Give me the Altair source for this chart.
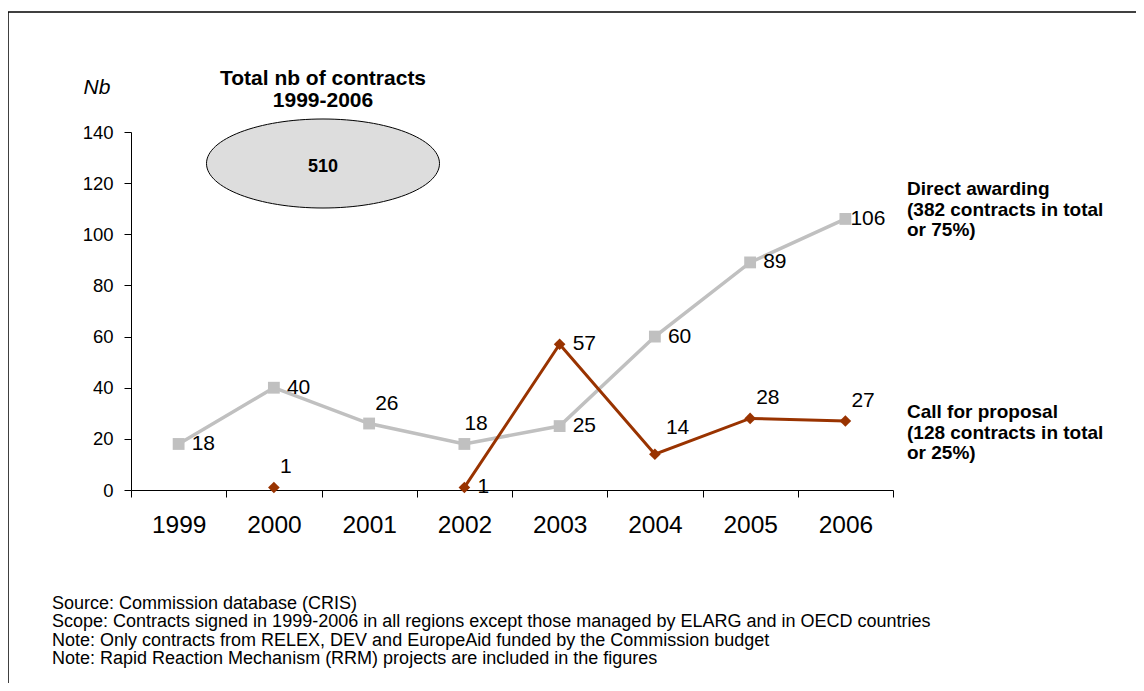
import altair as alt
import pandas as pd

# ---------------- data ----------------
years = ["1999", "2000", "2001", "2002", "2003", "2004", "2005", "2006"]
direct_awarding = [18, 40, 26, 18, 25, 60, 89, 106]
call_for_proposal = [None, 1, None, 1, 57, 14, 28, 27]
y_ticks = [0, 20, 40, 60, 80, 100, 120, 140]

total_contracts = 510
title_lines = ["Total nb of contracts", "1999-2006"]
legend_direct = ["Direct awarding", "(382 contracts in total", "or 75%)"]
legend_call = ["Call for proposal", "(128 contracts in total", "or 25%)"]
y_title = "Nb"
notes = [
    "Source: Commission database (CRIS)",
    "Scope: Contracts signed in 1999-2006 in all regions except those managed by ELARG and in OECD countries",
    "Note: Only contracts from RELEX, DEV and EuropeAid funded by the Commission budget",
    "Note: Rapid Reaction Mechanism (RRM) projects are included in the figures",
]

# ---------------- label placement (style, not data) ----------------
direct_label_pos = ["r", "r", "a", "a0", "r", "r", "r", "rt"]
call_label_pos = ["", "a", "", "r", "r", "ah", "a", "a"]
placements = {
    "r": (13, 0),
    "rt": (5, 0),
    "a": (6, -20),
    "ah": (11, -26),
    "a0": (0, -20),
}

GRAY = "#c0c0c0"
BROWN = "#993300"
FONT = "Liberation Sans"

rows = []
for y, v, p in zip(years, direct_awarding, direct_label_pos):
    rows.append({"year": y, "series": "direct", "value": v, "pos": p, "seg": 0})
seg = 0
for y, v, p in zip(years, call_for_proposal, call_label_pos):
    if v is None:
        seg += 1
        continue
    rows.append({"year": y, "series": "call", "value": v, "pos": p, "seg": seg})
df = pd.DataFrame(rows)

W, H = 762, 358
PAD_L, PAD_T = 123, 124
TOTAL_W, TOTAL_H = 1128, 675

x_enc = alt.X(
    "year:O",
    scale=alt.Scale(type="band", domain=years, paddingInner=0, paddingOuter=0),
    axis=alt.Axis(
        title=None, labelAngle=0, tickBand="extent", tickSize=7, labelPadding=16,
        labelFontSize=24.5, labelFont=FONT, labelColor="black",
        domainColor="black", tickColor="black",
    ),
)
y_enc = alt.Y(
    "value:Q",
    scale=alt.Scale(domain=[0, 140], nice=False, zero=True),
    axis=alt.Axis(
        title=None, values=y_ticks, grid=False, tickSize=7, labelPadding=11,
        labelFontSize=18.5, labelFont=FONT, labelColor="black",
        domainColor="black", tickColor="black",
    ),
)

base = alt.Chart(df)

direct_line = base.transform_filter("datum.series == 'direct'").mark_line(
    color=GRAY, strokeWidth=3.5
).encode(x=x_enc, y=y_enc)
direct_pts = base.transform_filter("datum.series == 'direct'").mark_point(
    shape="square", filled=True, size=140, color=GRAY, opacity=1
).encode(x=x_enc, y=y_enc)
call_line = base.transform_filter("datum.series == 'call'").mark_line(
    color=BROWN, strokeWidth=3
).encode(x=x_enc, y=y_enc, detail="seg:N")
call_pts = base.transform_filter("datum.series == 'call'").mark_point(
    shape="diamond", filled=True, size=135, color=BROWN, opacity=1
).encode(x=x_enc, y=y_enc)

label_layers = []
for code, (dx, dy) in placements.items():
    label_layers.append(
        base.transform_filter(f"datum.pos == '{code}'").mark_text(
            align="left", baseline="middle", dx=dx, dy=dy, fontSize=21,
            font=FONT, color="black"
        ).encode(x=x_enc, y=y_enc, text="value:Q")
    )


def text_layer(text, x, y, **kw):
    return alt.Chart(pd.DataFrame({"t": [text]})).mark_text(
        font=FONT, color="black", **kw
    ).encode(x=alt.value(x), y=alt.value(y), text="t:N")


ELLIPSE = ("M -1 0 C -1 -0.211 -0.552 -0.382 0 -0.382 "
           "C 0.552 -0.382 1 -0.211 1 0 "
           "C 1 0.211 0.552 0.382 0 0.382 "
           "C -0.552 0.382 -1 0.211 -1 0 Z")
ellipse = alt.Chart(pd.DataFrame({"t": [total_contracts]})).mark_point(
    shape=ELLIPSE, size=233 * 233, filled=True, fill="#dddddd", fillOpacity=1,
    stroke="black", strokeWidth=1, strokeOpacity=1, opacity=1
).encode(x=alt.value(192), y=alt.value(31.5))

annotations = [
    ellipse,
    text_layer(str(total_contracts), 192, 35, fontSize=18, fontWeight="bold",
               align="center", baseline="middle"),
    text_layer("\n".join(title_lines), 192, -64, fontSize=21, fontWeight="bold",
               align="center", baseline="top", lineBreak="\n", lineHeight=21.6),
    text_layer(y_title, -34, -44, fontSize=21, fontStyle="italic",
               align="center", baseline="middle"),
    text_layer("\n".join(legend_direct), 776, 48, fontSize=19, fontWeight="bold",
               align="left", baseline="top", lineBreak="\n", lineHeight=20.5),
    text_layer("\n".join(legend_call), 776, 271, fontSize=19, fontWeight="bold",
               align="left", baseline="top", lineBreak="\n", lineHeight=20.5),
    text_layer("\n".join(notes), -79, 463, fontSize=18,
               align="left", baseline="top", lineBreak="\n", lineHeight=18.4),
]

frame_df = pd.DataFrame({"k": [0]})
border_top = alt.Chart(frame_df).mark_rule(color="black", strokeWidth=1.5).encode(
    x=alt.value(-PAD_L), x2=alt.value(TOTAL_W - PAD_L), y=alt.value(-120)
)
border_left = alt.Chart(frame_df).mark_rule(color="black", strokeWidth=1.5).encode(
    x=alt.value(-PAD_L), y=alt.value(-120), y2=alt.value(TOTAL_H - PAD_T)
)

chart = alt.layer(
    direct_line, call_line, direct_pts, call_pts, *label_layers,
    *annotations, border_top, border_left
).properties(
    width=W, height=H,
    autosize=alt.AutoSizeParams(type="none"),
    padding={"left": PAD_L, "top": PAD_T, "right": TOTAL_W - PAD_L - W,
             "bottom": TOTAL_H - PAD_T - H},
    background="white",
).configure_view(stroke=None)

chart.save("out.html", embed_options={"renderer": "svg", "actions": False})
